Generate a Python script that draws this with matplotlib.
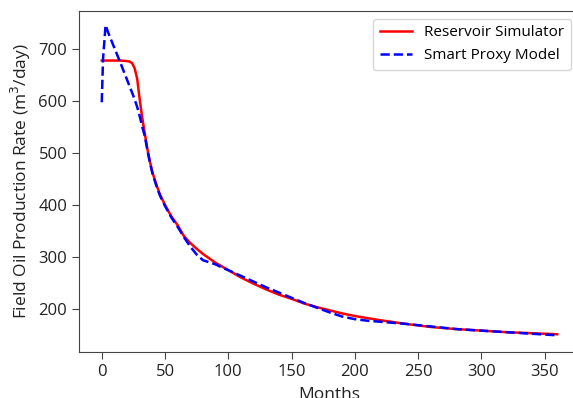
import numpy as np
import matplotlib
matplotlib.use("Agg")
import matplotlib.pyplot as plt

plt.rcParams['font.family'] = ['Open Sans', 'DejaVu Sans']

# Reservoir simulator output (months, m3/day)
sim_months = [0, 5, 10, 15, 20, 22, 24, 26, 28, 30, 32, 34, 36, 38, 40, 43, 46, 50,
              55, 60, 65, 70, 75, 80, 90, 100, 110, 120, 130, 140, 150, 160, 170,
              180, 190, 200, 220, 240, 260, 280, 300, 320, 340, 360]
sim_rate = [677, 677, 677, 677, 676, 675, 672, 662, 642, 602, 567, 537, 508, 484, 463,
            440, 420, 400, 378, 361, 340, 327, 316, 306, 289, 275, 261, 249, 238, 228,
            220, 211, 204, 198, 192, 187, 179, 172, 166, 162, 159, 156, 154, 152]

# Smart proxy model prediction
spm_months = [0, 1, 3, 5, 10, 15, 20, 25, 28, 30, 32, 34, 36, 38, 40, 43, 46, 50, 55,
              60, 65, 70, 75, 80, 85, 90, 95, 100, 110, 120, 130, 140, 150, 160, 170,
              180, 190, 200, 210, 220, 240, 260, 280, 300, 320, 340, 360]
spm_rate = [597, 680, 745, 731, 701, 671, 640, 609, 588, 570, 550, 532, 506, 482, 461,
            438, 418, 398, 376, 358, 338, 320, 305, 294, 290, 286, 280, 275, 264, 253,
            242, 232, 222, 212, 203, 194, 186, 181, 178, 176, 172, 167, 162, 159, 156,
            153, 150]

W, H = 573, 398
fig = plt.figure(figsize=(W / 100, H / 100), dpi=100)
# axes run a little past the right edge of the canvas
left, right, bottom, top = 79, 580, 352, 10.5
ax = fig.add_axes([left / W, 1 - bottom / H, (right - left) / W, (bottom - top) / H])

ax.plot(sim_months, sim_rate, color='red', lw=1.8, label='Reservoir Simulator')
ax.plot(spm_months, spm_rate, color='blue', lw=1.8, ls='--', label='Smart Proxy Model')

ax.set_xlim(-18, 378)
ax.set_ylim(118, 773)
ax.set_xticks(np.arange(0, 351, 50))
ax.set_yticks(np.arange(200, 701, 100))
ax.tick_params(labelsize=12, length=5, color='#444444', labelcolor='#222222')
for s in ax.spines.values():
    s.set_color('#444444')
ax.spines['right'].set_visible(False)

ax.set_xlabel('Months', fontsize=12.5, color='#222222', labelpad=5)
ax.set_ylabel('Field Oil Production Rate (m$^3$/day)', fontsize=12.5, color='#222222')
ax.legend(loc='upper left', fontsize=11, bbox_to_anchor=(373 / W, 1 - 18.5 / H),
          bbox_transform=fig.transFigure, borderaxespad=0, handlelength=2.1,
          borderpad=0.45)

fig.savefig('out.png', dpi=100)
